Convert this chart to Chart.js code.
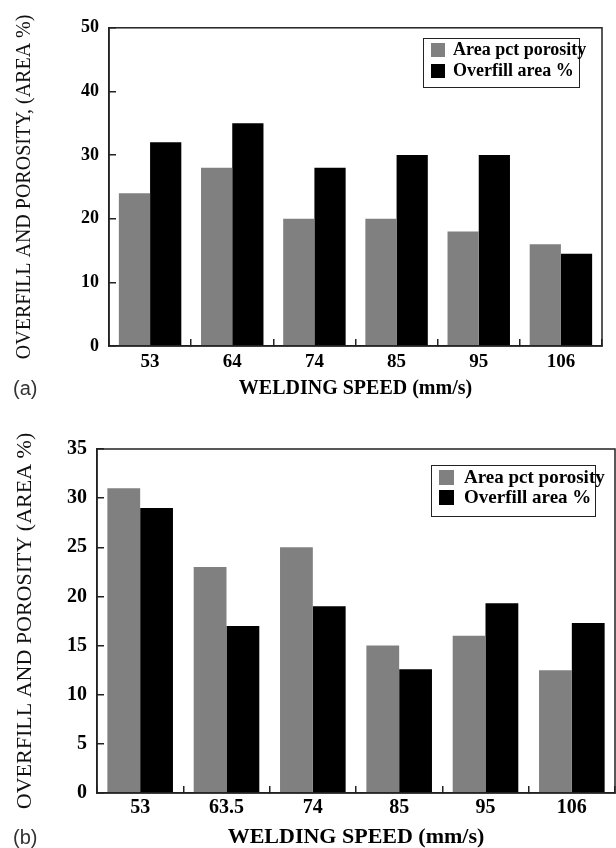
<!DOCTYPE html>
<html>
<head>
<meta charset="utf-8">
<script src="https://cdn.jsdelivr.net/npm/chart.js@4/dist/chart.umd.min.js"></script>
<style>
html,body{margin:0;padding:0;background:#fff;}
#wrap{position:relative;width:616px;height:848px;overflow:hidden;background:#fff;}
canvas{position:absolute;left:0;}
.tag{position:absolute;font-family:'Liberation Sans',Arial,sans-serif;font-size:20px;line-height:20px;color:#333;}
.lgbox{position:absolute;border:1.5px solid #222;box-sizing:border-box;}
.lgrow{position:absolute;font-family:'Liberation Serif','Times New Roman',serif;font-weight:bold;color:#000;white-space:nowrap;}
.lgsw{position:absolute;}
</style>
</head>
<body>
<div id="wrap">
  <canvas id="chartA" width="616" height="420" style="top:0px"></canvas>
  <canvas id="chartB" width="616" height="428" style="top:420px"></canvas>
  <div class="tag" style="left:13px;top:378px;">(a)</div>
  <div class="tag" style="left:13px;top:827px;">(b)</div>
</div>
<script>
// ---- data ----
const speedsA   = ['53', '64', '74', '85', '95', '106'];
const porosityA = [24, 28, 20, 20, 18, 16];
const overfillA = [32, 35, 28, 30, 30, 14.5];

const speedsB   = ['53', '63.5', '74', '85', '95', '106'];
const porosityB = [31, 23, 25, 15, 16, 12.5];
const overfillB = [29, 17, 19, 12.6, 19.3, 17.3];

const seriesNames = ['Area pct porosity', 'Overfill area %'];
const seriesColors = ['#808080', '#000000'];

const yRangeA = [0, 50, 10];
const yRangeB = [0, 35, 5];

const xTitle = 'WELDING SPEED (mm/s)';
const yTitleA = 'OVERFILL AND POROSITY, (AREA %)';
const yTitleB = 'OVERFILL AND POROSITY (AREA %)';

// ---- helpers ----
const SERIF = "'Liberation Serif','Times New Roman',serif";

const framePlugin = {
  id: 'frame',
  afterDatasetsDraw(chart) {
    const {ctx, chartArea: a} = chart;
    ctx.save();
    ctx.strokeStyle = '#222';
    ctx.lineWidth = 1.5;
    ctx.strokeRect(a.left, a.top, a.right - a.left, a.bottom - a.top);
    ctx.restore();
  }
};

function makeChart(id, labels, por, ovf, yr, yTitle, g) {
  return new Chart(document.getElementById(id), {
    type: 'bar',
    data: {
      labels: labels,
      datasets: [
        {label: seriesNames[0], data: por, backgroundColor: seriesColors[0], borderWidth: 0,
         categoryPercentage: 0.76, barPercentage: 1.0},
        {label: seriesNames[1], data: ovf, backgroundColor: seriesColors[1], borderWidth: 0,
         categoryPercentage: 0.76, barPercentage: 1.0}
      ]
    },
    options: {
      responsive: false,
      animation: false,
      events: [],
      layout: {padding: g.pad},
      plugins: {legend: {display: false}, tooltip: {enabled: false}},
      scales: {
        x: {
          offset: true,
          grid: {offset: true, drawOnChartArea: false, drawTicks: true, tickLength: -7,
                 color: '#222', lineWidth: 1.5},
          border: {display: true, color: '#222', width: 1.5},
          ticks: {color: '#000', padding: g.xPad, maxRotation: 0,
                  font: {family: SERIF, weight: 'bold', size: g.xFont}},
          title: {display: true, text: xTitle, color: '#000',
                  font: {family: SERIF, weight: 'bold', size: g.xtFont, lineHeight: 1},
                  padding: {top: 0, bottom: g.xtPadB}},
          afterFit(s) { s.height = g.xH; }
        },
        y: {
          min: yr[0], max: yr[1],
          grid: {drawOnChartArea: false, drawTicks: true, tickLength: -7,
                 color: '#222', lineWidth: 1.5},
          border: {display: true, color: '#222', width: 1.5},
          ticks: {stepSize: yr[2], color: '#000', padding: 17,
                  font: {family: SERIF, weight: 'bold', size: g.yFont}},
          title: {display: true, text: yTitle, color: '#111',
                  font: {family: SERIF, weight: 'normal', size: g.ytFont, lineHeight: 1},
                  padding: {top: g.ytPadT, bottom: 0}},
          afterFit(s) { s.width = g.yW; }
        }
      }
    },
    plugins: [framePlugin]
  });
}

function makeLegend(chart, L) {
  const wrap = document.getElementById('wrap');
  const box = document.createElement('div');
  box.className = 'lgbox';
  Object.assign(box.style, {left: L.box[0] + 'px', top: L.box[1] + 'px',
    width: L.box[2] + 'px', height: L.box[3] + 'px'});
  wrap.appendChild(box);
  chart.data.datasets.forEach((ds, i) => {
    const sw = document.createElement('div');
    sw.className = 'lgsw';
    Object.assign(sw.style, {left: L.swX + 'px', top: (L.swY + i * L.gap) + 'px',
      width: L.sw + 'px', height: L.sw + 'px', background: ds.backgroundColor});
    wrap.appendChild(sw);
    const t = document.createElement('div');
    t.className = 'lgrow';
    t.textContent = ds.label;
    Object.assign(t.style, {left: L.tX + 'px', top: (L.tY + i * L.gap - L.font / 2) + 'px',
      fontSize: L.font + 'px', lineHeight: L.font + 'px'});
    wrap.appendChild(t);
  });
}

const chartA = makeChart('chartA', speedsA, porosityA, overfillA, yRangeA, yTitleA, {
  pad: {top: 21, right: 14, bottom: 0, left: 0},
  xH: 74, yW: 109, xPad: 12, xFont: 19, xtFont: 20, xtPadB: 21,
  yFont: 18, ytFont: 20, ytPadT: 15
});
const chartB = makeChart('chartB', speedsB, porosityB, overfillB, yRangeB, yTitleB, {
  pad: {top: 24, right: 1, bottom: 0, left: 0},
  xH: 55, yW: 97, xPad: 10, xFont: 20, xtFont: 22, xtPadB: 0,
  yFont: 20, ytFont: 22, ytPadT: 14
});

makeLegend(chartA, {box: [423, 38, 157, 50], swX: 431, swY: 43, sw: 14, gap: 21,
  tX: 453, tY: 49, font: 18});
makeLegend(chartB, {box: [431, 465, 165, 52], swX: 439, swY: 470, sw: 15, gap: 20,
  tX: 464, tY: 476, font: 19});
</script>
</body>
</html>
